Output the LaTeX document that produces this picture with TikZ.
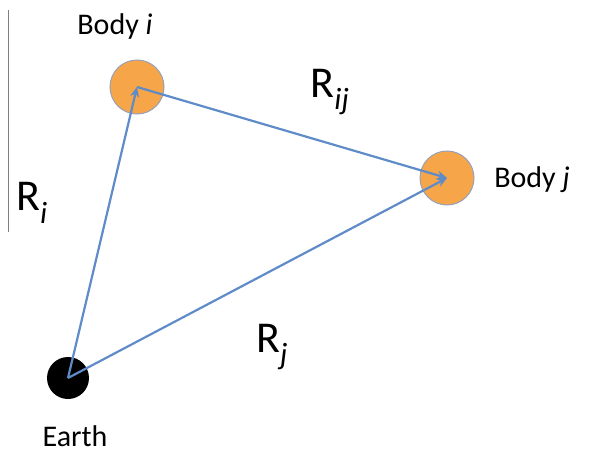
\documentclass[tikz,border=0pt]{standalone}
\usepackage{fontspec}
\setmainfont{Carlito}
\definecolor{bodyorange}{RGB}{246,166,72}
\definecolor{rimgray}{RGB}{150,160,185}
\definecolor{vecblue}{RGB}{95,140,200}
\usetikzlibrary{arrows.meta}
\tikzset{
  body/.style={circle, fill=bodyorange, draw=rimgray, line width=1pt, minimum size=54pt, inner sep=0pt},
  vec/.style={draw=vecblue, line width=2.2pt, -{Stealth[length=10pt,width=9pt]}},
  lbl/.style={font=\fontsize{30}{34}\selectfont, inner sep=1pt},
  rlbl/.style={font=\fontsize{44}{48}\selectfont, inner sep=1pt}
}
\begin{document}
\begin{tikzpicture}[x=1pt, y=-1pt]
    \useasboundingbox (0,0) rectangle (595,458);
    % margin line
    \draw[gray, line width=1pt] (8,10) -- (8,232);

    % bodies
    \node[circle, fill=black, minimum size=42pt, inner sep=0pt] (earth) at (68,378) {};
    \node[body] (bi) at (137,87) {};
    \node[body] (bj) at (447,178) {};

    % vectors
    \draw[vec] (earth.center) -- (bi.center);
    \draw[vec] (earth.center) -- (bj.center);
    \draw[vec] (bi.center) -- (bj.center);

    % labels
    \node[lbl] (ti) at (115,27) {Body \textit{i}};
    \node[lbl] (tj) at (532,180) {Body \textit{j}};
    \node[lbl, anchor=base] (te) at (75,446) {Earth};
    \node[rlbl] (ri) at (32,203) {R\textsubscript{\textit{i}}};
    \node[rlbl] (rj) at (272,347) {R\textsubscript{\textit{j}}};
    \node[rlbl] (rij) at (330,92) {R\textsubscript{\textit{ij}}};
\end{tikzpicture}
\end{document}
